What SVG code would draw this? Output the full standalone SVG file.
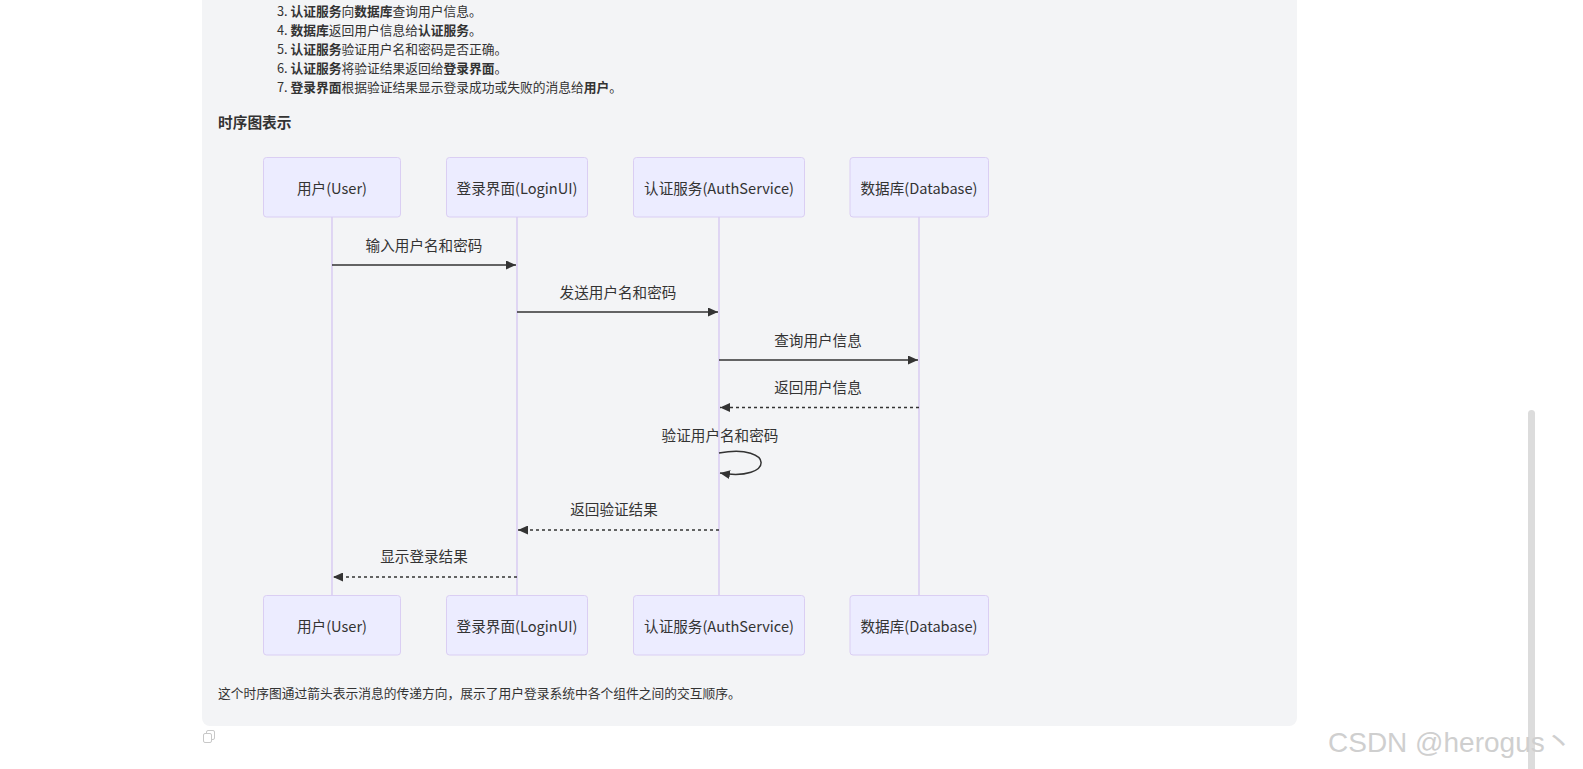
<svg xmlns="http://www.w3.org/2000/svg" width="1583" height="769" viewBox="0 0 1583 769">
<style>
.cjk{font-family:"Noto Sans CJK SC","Noto Sans",sans-serif;fill:#333}
.li{font-size:12.75px}
.b{font-weight:bold}
.actor rect{fill:#ECECFF;stroke:#DACEF3;stroke-width:1}
.actor text{font-family:"Noto Sans CJK SC","Noto Sans",sans-serif;font-size:14.6px;fill:#333;text-anchor:middle;dominant-baseline:central}
.life{stroke:#DACEF3;stroke-width:1.6}
.msg{stroke:#333;stroke-width:1.5;fill:none}
.dash{stroke-dasharray:3,3}
.ml{font-family:"Noto Sans CJK SC","Noto Sans",sans-serif;font-size:14.6px;fill:#333;text-anchor:middle;dominant-baseline:central}
</style>
<defs>
<marker id="ah" markerUnits="userSpaceOnUse" markerWidth="10" markerHeight="9" viewBox="0 0 10 9" refX="10" refY="4.5" orient="auto">
<path d="M0,0 L10,4.5 L0,9 z" fill="#333"/>
</marker>
</defs>
<rect x="0" y="0" width="1583" height="769" fill="#ffffff"/>
<rect x="202" y="-20" width="1095" height="746" rx="8" fill="#F3F4F6"/>
<g id="intro">
<text class="cjk li" x="277" y="16">3. <tspan class="b">认证服务</tspan>向<tspan class="b">数据库</tspan>查询用户信息。</text>
<text class="cjk li" x="277" y="34.5">4. <tspan class="b">数据库</tspan>返回用户信息给<tspan class="b">认证服务</tspan>。</text>
<text class="cjk li" x="277" y="53.5">5. <tspan class="b">认证服务</tspan>验证用户名和密码是否正确。</text>
<text class="cjk li" x="277" y="72.5">6. <tspan class="b">认证服务</tspan>将验证结果返回给<tspan class="b">登录界面</tspan>。</text>
<text class="cjk li" x="277" y="91.5">7. <tspan class="b">登录界面</tspan>根据验证结果显示登录成功或失败的消息给<tspan class="b">用户</tspan>。</text>
<text class="cjk b" x="218" y="128" font-size="14.7">时序图表示</text>
</g>
<g id="lifelines">
<line class="life" x1="332" y1="217" x2="332" y2="595.5"/>
<line class="life" x1="517" y1="217" x2="517" y2="595.5"/>
<line class="life" x1="719" y1="217" x2="719" y2="595.5"/>
<line class="life" x1="919" y1="217" x2="919" y2="595.5"/>
</g>
<g id="actor-user-top" class="actor"><rect x="263.5" y="157.5" width="137" height="59.5" rx="3"/><text x="332" y="187">用户(User)</text></g>
<g id="actor-ui-top" class="actor"><rect x="446.5" y="157.5" width="141" height="59.5" rx="3"/><text x="517" y="187">登录界面(LoginUI)</text></g>
<g id="actor-auth-top" class="actor"><rect x="633.5" y="157.5" width="171" height="59.5" rx="3"/><text x="719" y="187">认证服务(AuthService)</text></g>
<g id="actor-db-top" class="actor"><rect x="850" y="157.5" width="138.5" height="59.5" rx="3"/><text x="919" y="187">数据库(Database)</text></g>
<g id="actor-user-bottom" class="actor"><rect x="263.5" y="595.5" width="137" height="59.5" rx="3"/><text x="332" y="625">用户(User)</text></g>
<g id="actor-ui-bottom" class="actor"><rect x="446.5" y="595.5" width="141" height="59.5" rx="3"/><text x="517" y="625">登录界面(LoginUI)</text></g>
<g id="actor-auth-bottom" class="actor"><rect x="633.5" y="595.5" width="171" height="59.5" rx="3"/><text x="719" y="625">认证服务(AuthService)</text></g>
<g id="actor-db-bottom" class="actor"><rect x="850" y="595.5" width="138.5" height="59.5" rx="3"/><text x="919" y="625">数据库(Database)</text></g>
<g id="connectors">
<line class="msg" x1="332" y1="265" x2="516" y2="265" marker-end="url(#ah)"/>
<text class="ml" x="424" y="244">输入用户名和密码</text>
<line class="msg" x1="517" y1="312" x2="718" y2="312" marker-end="url(#ah)"/>
<text class="ml" x="618" y="291">发送用户名和密码</text>
<line class="msg" x1="719" y1="360" x2="918" y2="360" marker-end="url(#ah)"/>
<text class="ml" x="818" y="339">查询用户信息</text>
<line class="msg dash" x1="919" y1="407.5" x2="720" y2="407.5" marker-end="url(#ah)"/>
<text class="ml" x="818" y="386">返回用户信息</text>
<path class="msg" d="M719,453 C775,443 775,482 720,473" marker-end="url(#ah)"/>
<text class="ml" x="720" y="434">验证用户名和密码</text>
<line class="msg dash" x1="719" y1="530" x2="518" y2="530" marker-end="url(#ah)"/>
<text class="ml" x="614" y="508">返回验证结果</text>
<line class="msg dash" x1="517" y1="577" x2="333" y2="577" marker-end="url(#ah)"/>
<text class="ml" x="424" y="555.5">显示登录结果</text>
</g>
<text class="cjk li" x="218" y="697.5">这个时序图通过箭头表示消息的传递方向，展示了用户登录系统中各个组件之间的交互顺序。</text>
<g id="copy-icon" fill="none" stroke="#c8c8c8" stroke-width="1">
<path d="M206.5,733.5 v-1.5 a1.5,1.5 0 0 1 1.5,-1.5 h5 a1.5,1.5 0 0 1 1.5,1.5 v6 a1.5,1.5 0 0 1 -1.5,1.5 h-1.5"/>
<rect x="203.5" y="733.5" width="8" height="9" rx="1.5"/>
</g>
<rect x="1528" y="410" width="7" height="365" rx="3.5" fill="#dcdcdc"/>
<text x="1328" y="752" font-family="Liberation Sans, Arial, sans-serif" font-size="28" fill="#cfcfcf">CSDN @herogus<tspan font-family="Noto Sans CJK SC, sans-serif">丶</tspan></text>
</svg>
